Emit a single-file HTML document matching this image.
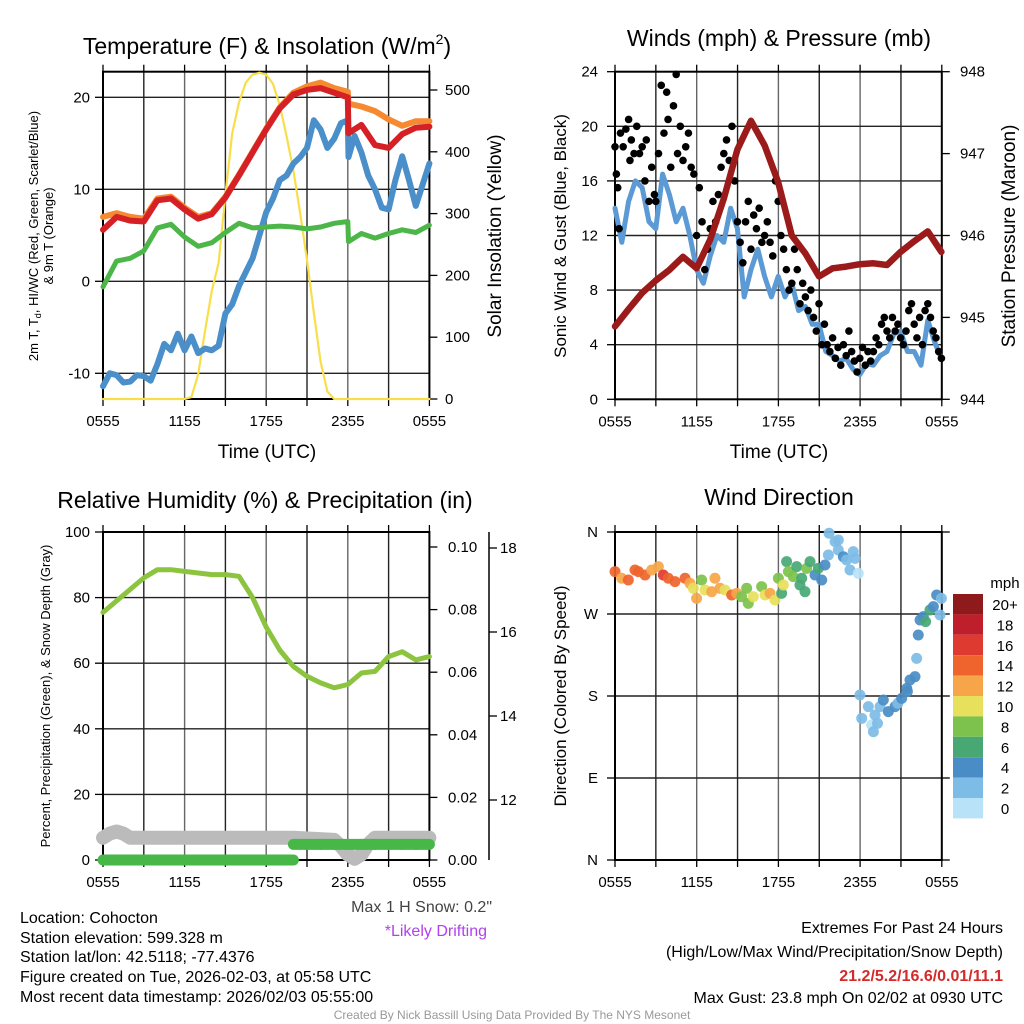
<!DOCTYPE html>
<html><head><meta charset="utf-8"><style>
html,body{margin:0;padding:0;background:#fff;}
svg{display:block;font-family:"Liberation Sans",Arial,sans-serif;}
</style></head><body>
<svg id="chart" width="1024" height="1024" viewBox="0 0 1024 1024" xmlns="http://www.w3.org/2000/svg">
<rect width="1024" height="1024" fill="#fff"/>
<g id="layer"></g>
<text x="267" y="54" font-size="23" text-anchor="middle">Temperature (F) &amp; Insolation (W/m<tspan font-size="14" dy="-10">2</tspan><tspan dy="10">)</tspan></text>
<text x="779" y="46" font-size="23" text-anchor="middle">Winds (mph) &amp; Pressure (mb)</text>
<text x="265" y="508" font-size="23" text-anchor="middle">Relative Humidity (%) &amp; Precipitation (in)</text>
<text x="779" y="505" font-size="23" text-anchor="middle">Wind Direction</text>
<text x="267" y="458" font-size="19" text-anchor="middle">Time (UTC)</text>
<text x="779" y="458" font-size="19" text-anchor="middle">Time (UTC)</text>
<g transform="translate(38,236) rotate(-90)">
<text x="0" y="0" font-size="13" text-anchor="middle">2m T, T<tspan font-size="9" dy="3">d</tspan><tspan dy="-3">, HI/WC (Red, Green, Scarlet/Blue)</tspan></text>
<text x="0" y="15" font-size="13" text-anchor="middle">&amp; 9m T (Orange)</text>
</g>
<text transform="translate(501,236) rotate(-90)" font-size="19" text-anchor="middle">Solar Insolation (Yellow)</text>
<text transform="translate(566,236) rotate(-90)" font-size="17" text-anchor="middle">Sonic Wind &amp; Gust (Blue, Black)</text>
<text transform="translate(1015,236) rotate(-90)" font-size="19" text-anchor="middle">Station Pressure (Maroon)</text>
<text transform="translate(50,696) rotate(-90)" font-size="13" text-anchor="middle">Percent, Precipitation (Green), &amp; Snow Depth (Gray)</text>
<text transform="translate(566,696) rotate(-90)" font-size="17" text-anchor="middle">Direction (Colored By Speed)</text>
<g font-size="16" fill="#000">
<text x="20" y="923">Location: Cohocton</text>
<text x="20" y="943">Station elevation: 599.328 m</text>
<text x="20" y="962">Station lat/lon: 42.5118; -77.4376</text>
<text x="20" y="982">Figure created on Tue, 2026-02-03, at 05:58 UTC</text>
<text x="20" y="1002">Most recent data timestamp: 2026/02/03 05:55:00</text>
</g>
<text x="492" y="912" font-size="16" fill="#444" text-anchor="end">Max 1 H Snow: 0.2"</text>
<text x="487" y="936" font-size="16" fill="#b33ff0" text-anchor="end">*Likely Drifting</text>
<g font-size="16" text-anchor="end">
<text x="1003" y="933">Extremes For Past 24 Hours</text>
<text x="1003" y="957">(High/Low/Max Wind/Precipitation/Snow Depth)</text>
<text x="1003" y="981" fill="#d42a2a" font-weight="bold">21.2/5.2/16.6/0.01/11.1</text>
<text x="1003" y="1003">Max Gust: 23.8 mph On 02/02 at 0930 UTC</text>
</g>
<text x="512" y="1019" font-size="12" fill="#999" text-anchor="middle">Created By Nick Bassill Using Data Provided By The NYS Mesonet</text>
</svg>
<script>
// ---- data ----
const hours = [0,1,2,3,4,5,6,7,8,9,10,11,12,13,14,15,16,17,18,19,20,21,22,23,24];
const tHours = [0,1,2,3,4,5,6,7,8,9,10,11,12,13,14,15,16,17,18,18.05,19,20,21,22,23,24];
const tempRed = [5.6,7.0,6.6,6.5,8.8,9.0,7.8,6.8,7.3,9.1,11.5,14.0,16.5,18.8,20.3,20.8,21.0,20.5,20.0,16.1,17.0,14.8,14.5,16.0,16.7,16.8];
const tempOrange = [7.0,7.4,7.0,6.8,9.0,9.2,8.0,7.0,7.4,9.2,11.6,14.1,16.6,18.9,20.5,21.2,21.6,21.0,20.6,19.3,19.0,18.5,17.6,16.9,17.4,17.4];
const dewGreen = [-0.6,2.2,2.5,3.3,5.8,6.2,4.8,3.8,4.2,5.3,6.3,5.8,5.9,6.0,5.9,5.7,5.9,6.3,6.5,4.3,5.2,4.7,5.2,5.6,5.3,6.1];
const blueHours = [0,0.5,1,1.5,2,2.5,3,3.5,4,4.5,5,5.5,6,6.5,7,7.5,8,8.5,9,9.5,10,10.5,11,11.5,12,12.5,13,13.5,14,14.5,15,15.5,16,16.5,17,17.5,18,18.05,18.5,19,19.5,20,20.5,21,21.5,22,22.5,23,23.5,24];
const chillBlue = [-11.4,-10.0,-10.2,-11.0,-10.9,-10.2,-10.3,-10.8,-9.0,-6.8,-7.5,-5.7,-7.5,-6.0,-7.8,-7.3,-7.5,-7.0,-3.5,-2.5,-0.5,1.0,2.5,5.0,7.5,9.0,11.0,11.5,12.8,13.5,14.5,17.5,16.5,14.5,15.5,17.2,17.5,13.5,15.8,14.0,11.5,10.0,8.0,7.8,11.0,13.6,11.0,8.2,10.5,12.8];
const solarHours = [0,6,6.5,7,7.5,8,8.5,9,9.5,10,10.5,11,11.5,12,12.5,13,13.5,14,14.5,15,15.5,16,16.5,17,24];
const solarVals = [0,0,3,40,110,175,220,330,430,480,512,525,528,525,510,475,425,370,300,225,140,60,12,0,0];

const windHours = [0,0.5,1,1.5,2,2.5,3,3.5,4,4.5,5,5.5,6,6.5,7,7.5,8,8.5,9,9.5,10,10.5,11,11.5,12,12.5,13,13.5,14,14.5,15,15.5,16,16.5,17,17.5,18,18.5,19,19.5,20,20.5,21,21.5,22,22.5,23,23.5,24];
const windSust = [14,11.5,14.5,16,15.5,13,12.5,16.5,15,13,14,12,9.5,8.5,10.5,12,11.5,14,12.5,7.5,9.5,11,9,7.5,9,7.5,8.5,6.5,6.8,5.5,5.5,3.5,3.2,2.8,3.0,2.2,1.8,2.6,2.5,3.2,3.5,4.8,5.0,3.5,3.5,2.5,5.8,4.2,3.0];
const gustHours = [0,0.1,0.2,0.3,0.4,0.6,0.8,1.0,1.1,1.2,1.4,1.6,1.8,2.0,2.2,2.3,2.5,2.7,2.9,3.0,3.2,3.4,3.6,3.8,3.9,4.1,4.3,4.5,4.6,4.8,5.0,5.2,5.4,5.6,5.8,6.0,6.2,6.4,6.6,6.8,7.0,7.2,7.4,7.6,7.8,8.0,8.2,8.4,8.6,8.8,9.0,9.2,9.4,9.6,9.8,10.0,10.2,10.4,10.6,10.8,11.0,11.2,11.4,11.6,11.8,12.0,12.2,12.4,12.6,12.8,13.0,13.2,13.4,13.6,13.8,14.0,14.2,14.4,14.6,14.8,15.0,15.2,15.4,15.6,15.8,16.0,16.2,16.4,16.6,16.8,17.0,17.2,17.4,17.6,17.8,18.0,18.2,18.4,18.6,18.8,19.0,19.2,19.4,19.6,19.8,20.0,20.2,20.4,20.6,20.8,21.0,21.2,21.4,21.6,21.8,22.0,22.2,22.4,22.6,22.8,23.0,23.2,23.4,23.6,23.8,24.0];
const gustVals = [18.5,16.5,15.5,12.5,19.5,18.5,19.8,20.5,17.5,19.0,18.0,20.0,18.0,18.5,16.0,19.0,14.5,17.0,15.0,14.5,18.0,23.0,19.5,22.5,20.5,17.0,21.5,23.8,18.0,20.0,17.5,18.5,19.5,17.0,16.5,12.0,15.5,13.0,9.5,11.0,12.5,14.5,13.0,15.0,17.0,18.0,19.0,17.5,20.0,16.0,13.0,11.5,10.0,13.0,14.5,11.0,13.5,12.5,14.0,11.5,12.0,13.0,11.5,10.5,16.0,14.5,12.0,11.0,9.5,8.0,8.5,11.0,9.5,7.0,8.5,7.5,6.5,8.0,6.0,5.0,7.0,4.0,5.5,4.0,3.5,4.5,3.0,3.8,2.5,4.0,3.2,5.0,3.5,2.8,2.0,3.0,3.8,2.5,3.5,2.8,3.5,4.5,4.0,5.5,6.0,5.0,4.5,6.0,5.0,5.5,4.5,4.0,5.0,6.5,7.0,5.5,4.5,6.0,4.0,6.5,7.0,6.0,5.0,4.5,3.5,3.0];
const pressure = [944.89,945.1,945.3,945.45,945.58,945.74,945.6,945.95,946.45,947.05,947.4,947.1,946.65,946.0,945.78,945.5,945.6,945.62,945.65,945.66,945.64,945.8,945.93,946.05,945.8];

const rhVals = [75.5,79,82.5,86,88.5,88.5,88,87.5,87,87,86.5,80,71,64,59,56,54,52.5,53.5,57,57.5,62,63.5,61,62];
const precipVals = [0,0,0,0,0,0,0,0,0,0,0,0,0,0,0.005,0.005,0.005,0.005,0.005,0.005,0.005,0.005,0.005,0.005,0.005];
const snowHours = [0,0.5,1,1.5,2,3,6,10,14,17,17.5,18,18.5,19,19.5,20,22,24];
const snowVals = [11.1,11.2,11.25,11.2,11.1,11.1,11.1,11.1,11.1,11.05,10.9,10.7,10.6,10.7,10.95,11.1,11.1,11.1];

const dirHours = [0,0.49,0.98,1.47,1.72,2.21,2.7,3.19,3.55,3.92,4.41,5.15,5.51,5.76,6.0,6.37,6.62,7.11,7.35,7.72,8.09,8.58,8.95,9.31,9.68,9.8,10.17,10.78,11.03,11.4,11.76,12.01,12.25,12.38,12.62,12.75,13.11,13.36,13.6,13.73,13.97,14.09,14.34,14.71,14.95,15.2,15.44,15.69,15.74,16.18,16.42,16.42,16.79,17.03,17.28,17.52,17.65,17.89,18.01,18.14,18.63,18.87,19.0,19.12,19.3,19.49,19.73,20.1,20.59,20.8,21.08,21.45,21.5,21.69,22.06,22.18,22.3,22.43,22.67,22.84,23.16,23.41,23.65,23.9,24.0];
const dirDeg = [316.5,309.2,307.3,318.3,316.5,312.8,318.3,322,312.8,309.2,305.5,309.2,303.7,298.2,287.2,307.3,296.3,294.5,309.2,298.2,296.3,290.9,292.7,289.0,298.2,281.7,289.0,300.0,290.9,292.7,285.4,309.2,292.7,301.8,327.5,316.5,311.0,322.0,301.8,309.2,294.5,320.1,327.5,312.8,320.1,307.3,323.8,334.8,358.6,349.4,351.2,340.3,332.9,329.3,318.3,338.4,331.1,314.6,181.1,155.5,168.3,148.2,140.8,159.1,150,168.3,175.6,162.8,168.3,172,177.4,188.4,185,197.6,201.2,221.3,247.0,263.4,267.1,261.6,274.4,278.1,290.9,268.9,287.2];
const dirSpeed = [14,13,15,14,15,14,13,13,16,15,14,14,13,10,12,8,10,12,12,12,11,15,13,8,8,8,10,8,10,12,10,8,7,10,6,8,8,7,7,6,6,8,6,4,6,4,4,2,2,2,2,2,4,2,2,2,3,1,2,2,2,1,2,2,2,2,4,4,4,3,4,4,4,4,4,2,4,4,4,6,6,4,4,2,3];

const xTickLabels = ["0555","1155","1755","2355","0555"];
const tempTicks = [-10,0,10,20];
const solarTicks = [0,100,200,300,400,500];
const windTicks = [0,4,8,12,16,20,24];
const presTicks = [944,945,946,947,948];
const rhTicks = [0,20,40,60,80,100];
const precipTicks = [0,0.02,0.04,0.06,0.08,0.10];
const snowTicks = [12,14,16,18];
const dirLabels = ["N","E","S","W","N"];
const dirTicks = [0,90,180,270,360];
const cbLabels = ["20+","18","16","14","12","10","8","6","4","2","0"];
const cbColors = ["#8e1a1c","#bf1f2a","#df3a2f","#ef642c","#f6a548","#e7e05c","#7dc24c","#48a874","#4a8dc6","#7dbce6","#b8e2f7"];

// ---- scales ----
const NS = "http://www.w3.org/2000/svg";
const layer = document.getElementById('layer');
function el(tag, attrs, parent){const e=document.createElementNS(NS,tag);for(const k in attrs)e.setAttribute(k,attrs[k]);(parent||layer).appendChild(e);return e;}
const X1 = h => 103 + h*13.6;
const X2 = h => 615 + h*13.6;
const yT = v => 281.3 - v*9.2;
const yS = v => 399 - v*0.618;
const yW = v => 399.3 - v*13.65;
const yP = v => 399.3 - (v-944)*81.9;
const yR = v => 860 - v*3.28;
const yPr = v => 860 - v*3130;
const ySn = v => 800 - (v-12)*42;
const yD = d => 860 - d*0.9111;

function frame(x0,y0,x1,y1,hTicksY,name){
  const g=el('g',{});
  
  
  for(let i=1;i<8;i++){const x=x0+i*(x1-x0)/8;el('line',{x1:x,y1:y0,x2:x,y2:y1,stroke:(i%2?'#222':'#666'),'stroke-width':1.4},g);}
  hTicksY.forEach(y=>{if(y>y0+1&&y<y1-1)el('line',{x1:x0,y1:y,x2:x1,y2:y,stroke:'#222','stroke-width':1.4},g);});
  for(let i=0;i<=8;i++){const x=x0+i*(x1-x0)/8;el('line',{x1:x,y1:y1,x2:x,y2:y1+7,stroke:'#000','stroke-width':1.3},g);el('line',{x1:x,y1:y0,x2:x,y2:y0-7,stroke:'#000','stroke-width':1.3},g);}
  const r=el('rect',{x:x0,y:y0,width:x1-x0,height:y1-y0,fill:'none',stroke:'#000','stroke-width':2});
  
  
  xTickLabels.forEach((t,i)=>{const tx=el('text',{x:x0+i*(x1-x0)/4,y:y1+27,'font-size':15,'text-anchor':'middle'});tx.textContent=t;
    
    });
}
function yLabels(ticks,fy,x,anchor,fmt,size){
  ticks.forEach(v=>{const t=el('text',{x:x,y:fy(v)+5,'font-size':size||15,'text-anchor':anchor});t.textContent=fmt?fmt(v):v;
    
    });
}
function ticksAt(ticks,fy,x,len){ticks.forEach(v=>el('line',{x1:x,y1:fy(v),x2:x+len,y2:fy(v),stroke:'#000','stroke-width':1.3}));}
function line(xs,ys,fx,fy,color,w,name){
  const d=xs.map((h,i)=>(i?'L':'M')+fx(h).toFixed(1)+','+fy(ys[i]).toFixed(1)).join('');
  const p=el('path',{d:d,fill:'none',stroke:color,'stroke-width':w,'stroke-linejoin':'round','stroke-linecap':'round'});
  
  
  return p;
}

// ---- panel 1 ----
frame(103,71.7,429.4,399,tempTicks.map(yT),'temp-panel');
yLabels(tempTicks,yT,90,'end');
ticksAt(tempTicks,yT,103,-8);
yLabels(solarTicks,yS,445,'start');
ticksAt(solarTicks,yS,429.4,8);
line(solarHours,solarVals,X1,yS,'#f8df4a',2.2,'solar-insolation-line');
line(blueHours,chillBlue,X1,yT,'#4a8fc9',6,'wind-chill-line');
line(tHours,dewGreen,X1,yT,'#4cb648',5,'dewpoint-line');
line(tHours,tempOrange,X1,yT,'#f58a30',6,'temp-9m-line');
line(tHours,tempRed,X1,yT,'#d52126',6,'temp-2m-line');

// ---- panel 2 ----
frame(615,71.7,941.8,399.3,windTicks.map(yW),'wind-panel');
yLabels(windTicks,yW,598,'end');
ticksAt(windTicks,yW,615,-8);
yLabels(presTicks,yP,960,'start');
ticksAt(presTicks,yP,941.8,8);
line(windHours,windSust,X2,yW,'#5b9ad4',5,'sustained-wind-line');
gustHours.forEach((h,i)=>{const c=el('circle',{cx:X2(h),cy:yW(gustVals[i]),r:3.8,fill:'#000'});
  
  });
line(hours,pressure,X2,yP,'#9b1b1b',6.5,'pressure-line');

// ---- panel 3 ----
frame(103,532,429.4,860,rhTicks.map(yR),'humidity-panel');
yLabels(rhTicks,yR,90,'end');
ticksAt(rhTicks,yR,103,-8);
yLabels(precipTicks,yPr,448,'start',v=>v.toFixed(2));
ticksAt(precipTicks,yPr,429.4,8);
el('line',{x1:489,y1:532,x2:489,y2:860,stroke:'#000','stroke-width':1.5});
ticksAt(snowTicks,ySn,489,8);
yLabels(snowTicks,ySn,500,'start');
line(snowHours,snowVals,X1,ySn,'#bbbbbb',14,'snow-depth-line');
hours.slice(0,-1).forEach((h,i)=>{const s=el('line',{x1:X1(h),y1:yPr(precipVals[i]),x2:X1(hours[i+1]),y2:yPr(precipVals[i]),stroke:'#47b847','stroke-width':11,'stroke-linecap':'round'});
  
  });
line(hours,rhVals,X1,yR,'#8cc43f',5,'humidity-line');

// ---- panel 4 ----
frame(615,532,941.8,860,dirTicks.map(yD),'direction-panel');
dirLabels.forEach((t,i)=>{const tx=el('text',{x:598,y:yD(dirTicks[i])+5,'font-size':15,'text-anchor':'end'});tx.textContent=t;
  
  });
ticksAt(dirTicks,yD,615,-8);
ticksAt(dirTicks,yD,941.8,8);
function speedColor(s){let idx=Math.min(10,Math.floor(s/2));return cbColors[10-idx];}
dirHours.forEach((h,i)=>{const c=el('circle',{cx:X2(h),cy:yD(dirDeg[i]),r:5.5,fill:speedColor(dirSpeed[i]),'fill-opacity':0.92});
  
  });
const mph=el('text',{x:1005,y:588,'font-size':15,'text-anchor':'middle'});mph.textContent='mph';


cbColors.forEach((c,i)=>{const r=el('rect',{x:953,y:594+i*20.4,width:30,height:20.4,fill:c});
  
  
  const t=el('text',{x:1005,y:594+i*20.4+16,'font-size':15,'text-anchor':'middle'});t.textContent=cbLabels[i];
  
  });
</script>
</body></html>
